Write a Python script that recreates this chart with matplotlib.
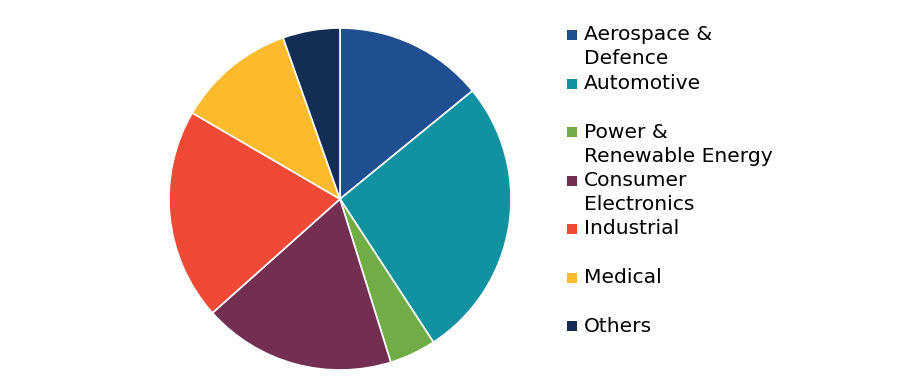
import matplotlib
matplotlib.use("Agg")
import matplotlib.pyplot as plt
from matplotlib.patches import Rectangle

labels = ["Aerospace &\nDefence", "Automotive", "Power &\nRenewable Energy",
          "Consumer\nElectronics", "Industrial", "Medical", "Others"]
values = [14.1, 26.7, 4.4, 18.2, 20.0, 11.2, 5.4]
colors = ["#1F4E91", "#1192A0", "#70AD47", "#722F52", "#F04A37", "#FCBA2D", "#142D55"]

W, H = 921, 387
fig = plt.figure(figsize=(W / 100, H / 100), dpi=100)
cx, cy, r = 340, 199, 171
ax = fig.add_axes([(cx - r) / W, (H - cy - r) / H, 2 * r / W, 2 * r / H])
ax.pie(values, colors=colors, startangle=90, counterclock=False,
       wedgeprops=dict(edgecolor="white", linewidth=1.2), radius=1.0)
ax.set_xlim(-1, 1)
ax.set_ylim(-1, 1)
ax.set_aspect("equal")
ax.axis("off")

y0 = 35
step = 48.5
for i, (lab, col) in enumerate(zip(labels, colors)):
    y = y0 + i * step
    fig.add_artist(Rectangle((567 / W, (H - y - 5) / H), 10 / W, 10 / H,
                             transform=fig.transFigure, facecolor=col, edgecolor="none"))
    for j, ln in enumerate(lab.split("\n")):
        fig.text(584 / W, (H - (y + j * 24)) / H, ln, fontsize=14.6, color="#000000",
                 va="center", ha="left", family="DejaVu Sans")

fig.savefig("out.png", dpi=100)
